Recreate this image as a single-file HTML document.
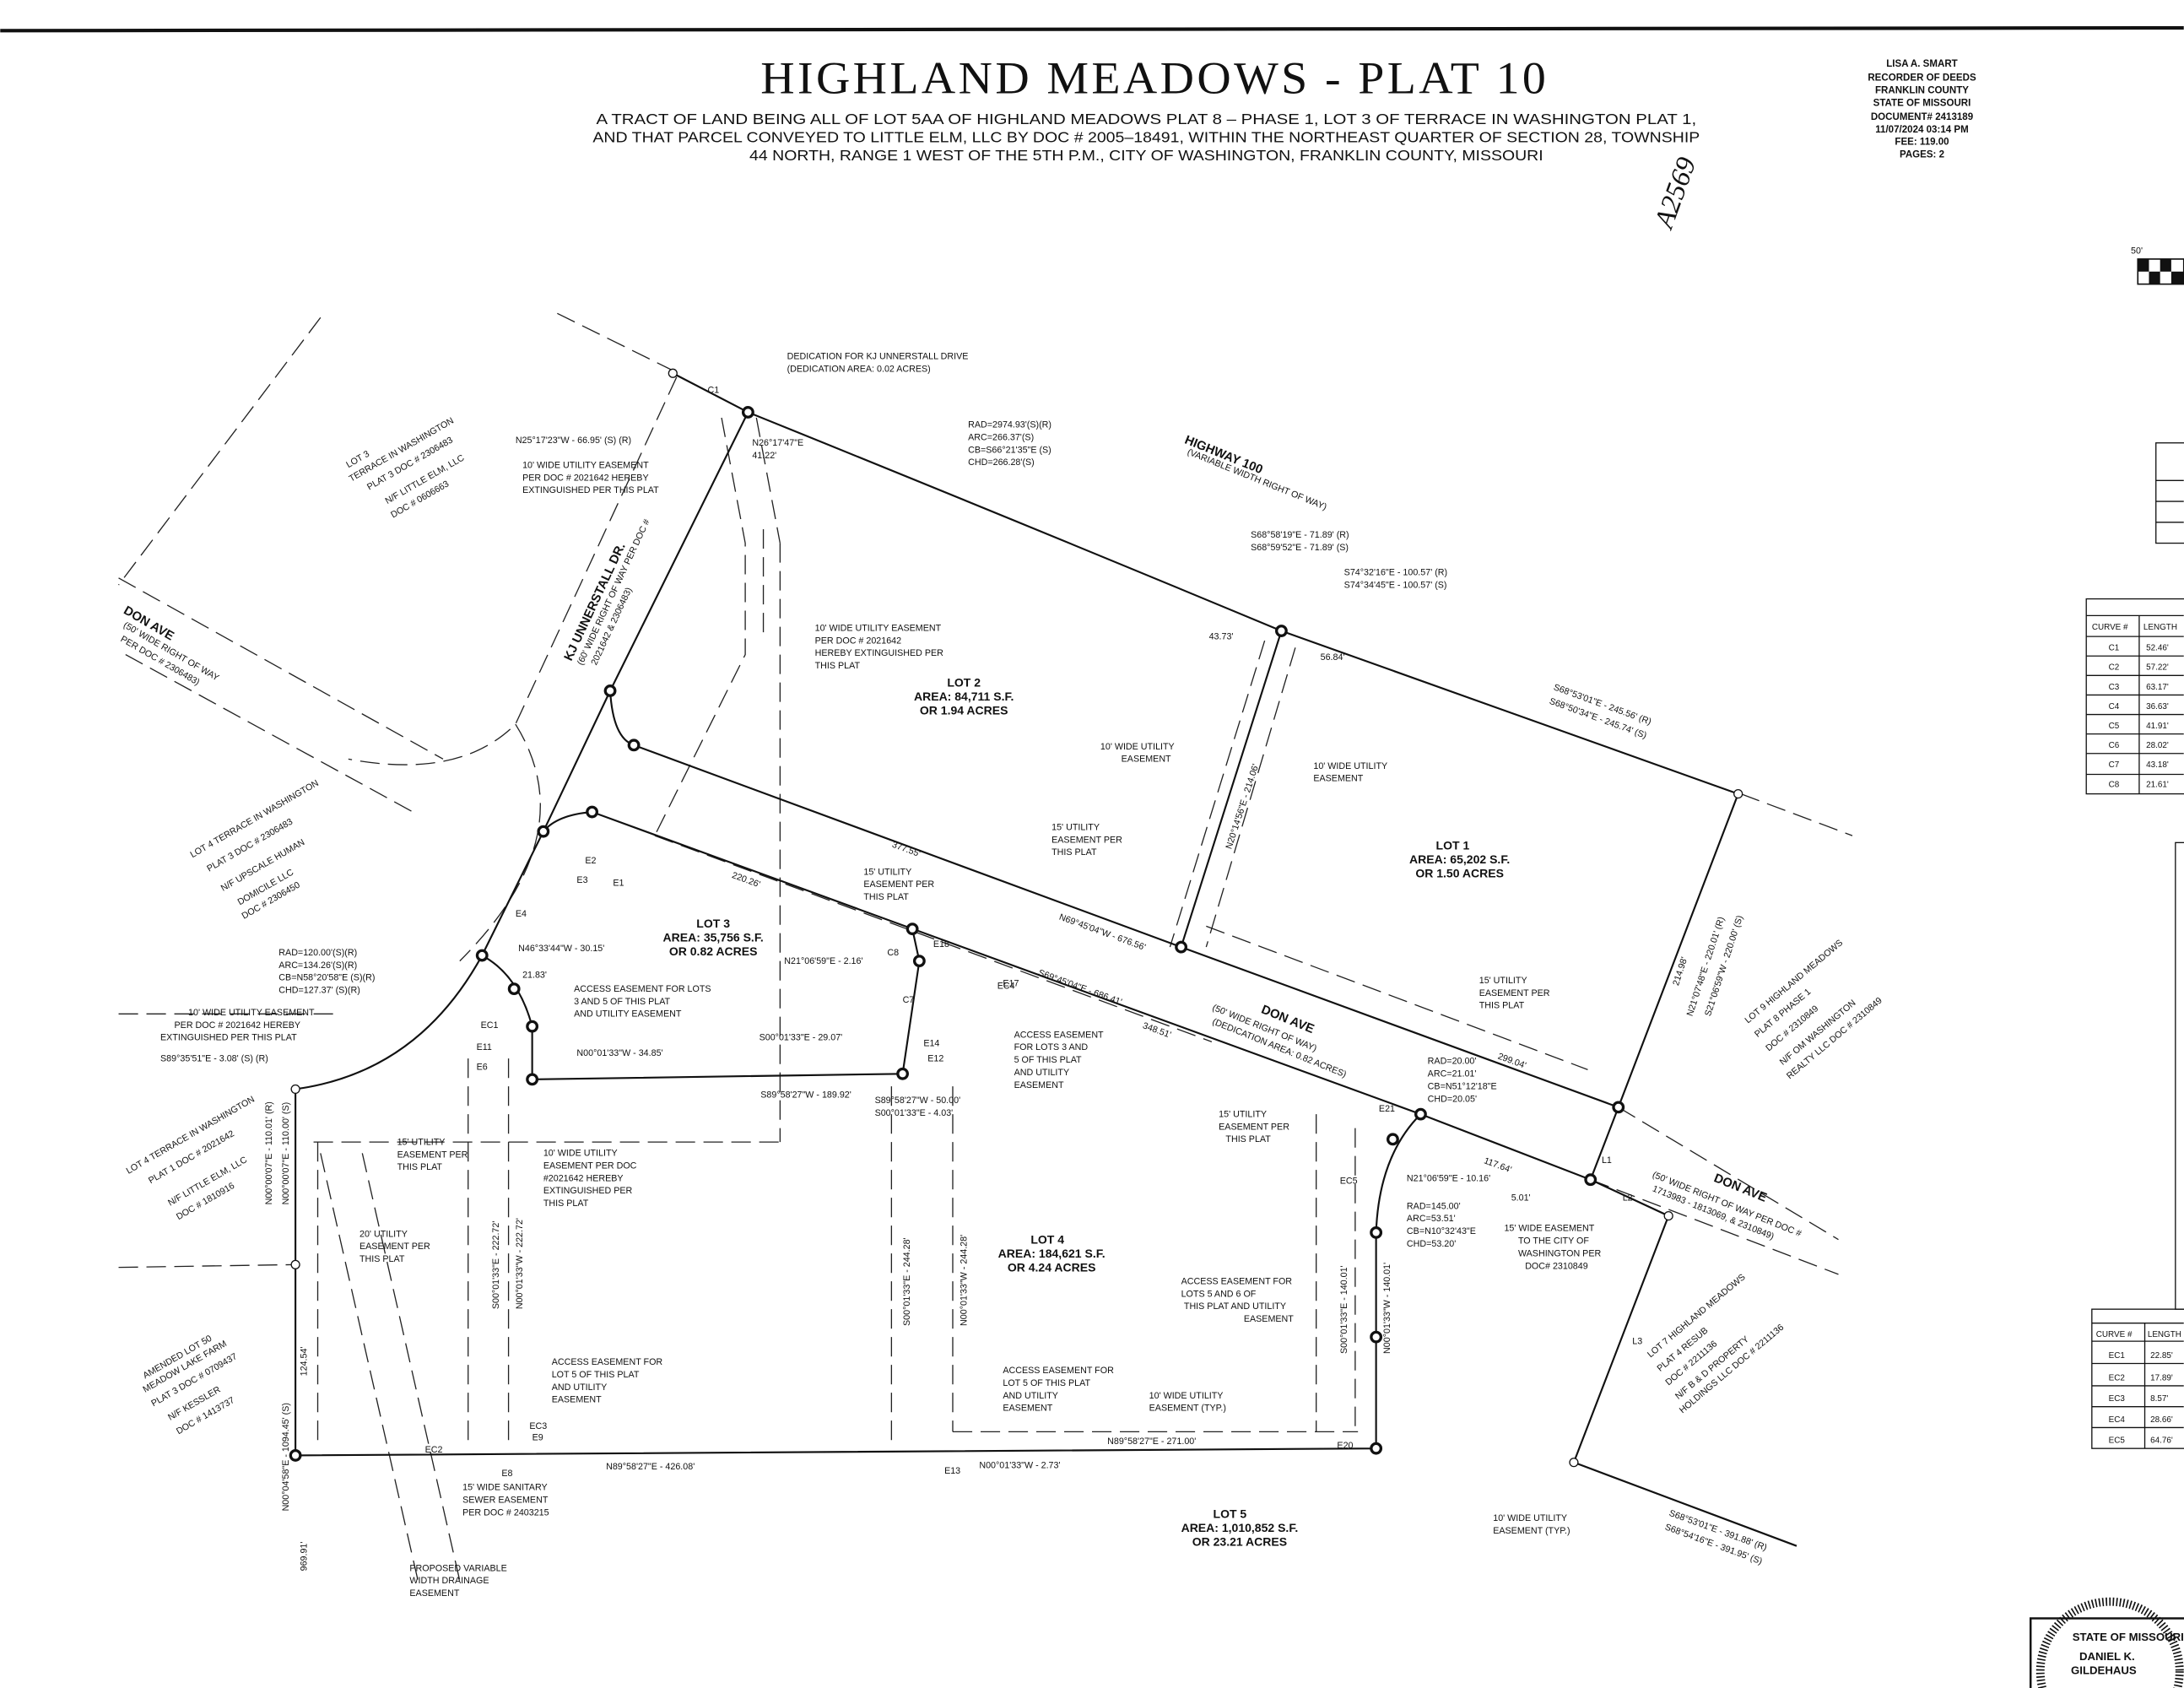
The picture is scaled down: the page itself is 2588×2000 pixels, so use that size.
<!DOCTYPE html>
<html><head><meta charset="utf-8"><style>
html,body{margin:0;padding:0;background:#fff;}
svg{display:block}
text{font-family:"Liberation Sans",sans-serif;fill:#111;}
.s{font-size:6.5px}
.m{font-size:8.5px;font-weight:bold}
</style></head><body>
<svg width="2588" height="2000" viewBox="0 0 1568 1212" xmlns="http://www.w3.org/2000/svg">
<rect width="1568" height="1212" fill="#fff"/>
<line x1="0" y1="22" x2="1568" y2="20" stroke="#111" stroke-width="2.5"/>
<text x="829" y="67" text-anchor="middle" style="font-family:'Liberation Serif',serif;font-size:33px;letter-spacing:2px" textLength="566" lengthAdjust="spacingAndGlyphs">HIGHLAND MEADOWS - PLAT 10</text>
<g style="font-size:10.5px" text-anchor="middle">
<text x="823" y="89" textLength="790" lengthAdjust="spacingAndGlyphs">A TRACT OF LAND BEING ALL OF LOT 5AA OF HIGHLAND MEADOWS PLAT 8 – PHASE 1, LOT 3 OF TERRACE IN WASHINGTON PLAT 1,</text>
<text x="823" y="102" textLength="795" lengthAdjust="spacingAndGlyphs">AND THAT PARCEL CONVEYED TO LITTLE ELM, LLC BY DOC # 2005–18491, WITHIN THE NORTHEAST QUARTER OF SECTION 28, TOWNSHIP</text>
<text x="823" y="115" textLength="570" lengthAdjust="spacingAndGlyphs">44 NORTH, RANGE 1 WEST OF THE 5TH P.M., CITY OF WASHINGTON, FRANKLIN COUNTY, MISSOURI</text>
</g>
<g style="font-size:7px;font-weight:bold" text-anchor="middle">
<text x="1380" y="48">LISA A. SMART</text><text x="1380" y="58">RECORDER OF DEEDS</text>
<text x="1380" y="67">FRANKLIN COUNTY</text><text x="1380" y="76">STATE OF MISSOURI</text>
<text x="1380" y="86">DOCUMENT# 2413189</text><text x="1380" y="95">11/07/2024 03:14 PM</text>
<text x="1380" y="104">FEE: 119.00</text><text x="1380" y="113">PAGES: 2</text>
</g>
<text x="1200" y="165" transform="rotate(-70 1200 165)" style="font-size:20px;font-family:'Liberation Serif',serif;font-style:italic">A2569</text>
<!-- scale bar -->
<text x="1530" y="182" class="s">50'</text>
<rect x="1535" y="186" width="33" height="18" fill="none" stroke="#111"/>
<rect x="1535" y="186" width="8" height="9" fill="#111"/><rect x="1543" y="195" width="8" height="9" fill="#111"/><rect x="1551" y="186" width="8" height="9" fill="#111"/><rect x="1559" y="195" width="9" height="9" fill="#111"/>
<!-- tables -->
<g stroke="#111" stroke-width="0.8" fill="none">
<rect x="1548" y="318" width="25" height="72"/>
<line x1="1548" y1="345" x2="1568" y2="345"/><line x1="1548" y1="360" x2="1568" y2="360"/><line x1="1548" y1="375" x2="1568" y2="375"/>
<rect x="1498" y="430" width="75" height="140"/>
<line x1="1498" y1="442" x2="1568" y2="442"/><line x1="1536" y1="442" x2="1536" y2="570"/>
<line x1="1498" y1="457" x2="1568" y2="457"/><line x1="1498" y1="471" x2="1568" y2="471"/><line x1="1498" y1="485" x2="1568" y2="485"/><line x1="1498" y1="499" x2="1568" y2="499"/><line x1="1498" y1="513" x2="1568" y2="513"/><line x1="1498" y1="527" x2="1568" y2="527"/><line x1="1498" y1="541" x2="1568" y2="541"/><line x1="1498" y1="556" x2="1568" y2="556"/>
<rect x="1562" y="605" width="10" height="335"/>
<rect x="1502" y="940" width="70" height="100"/>
<line x1="1502" y1="950" x2="1568" y2="950"/><line x1="1540" y1="950" x2="1540" y2="1040"/>
<line x1="1502" y1="963" x2="1568" y2="963"/><line x1="1502" y1="979" x2="1568" y2="979"/><line x1="1502" y1="995" x2="1568" y2="995"/><line x1="1502" y1="1010" x2="1568" y2="1010"/><line x1="1502" y1="1025" x2="1568" y2="1025"/>
<rect x="1458" y="1162" width="115" height="60" stroke-width="1.5"/>
<circle cx="1515" cy="1200" r="50" stroke-width="6" stroke-dasharray="1 1.5"/>
</g>
<g class="s" style="font-size:6px">
<text x="1502" y="452">CURVE #</text><text x="1539" y="452">LENGTH</text>
<text x="1514" y="467">C1</text><text x="1541" y="467">52.46'</text>
<text x="1514" y="481">C2</text><text x="1541" y="481">57.22'</text>
<text x="1514" y="495">C3</text><text x="1541" y="495">63.17'</text>
<text x="1514" y="509">C4</text><text x="1541" y="509">36.63'</text>
<text x="1514" y="523">C5</text><text x="1541" y="523">41.91'</text>
<text x="1514" y="537">C6</text><text x="1541" y="537">28.02'</text>
<text x="1514" y="551">C7</text><text x="1541" y="551">43.18'</text>
<text x="1514" y="565">C8</text><text x="1541" y="565">21.61'</text>
<text x="1505" y="960">CURVE #</text><text x="1542" y="960">LENGTH</text>
<text x="1514" y="975">EC1</text><text x="1544" y="975">22.85'</text>
<text x="1514" y="991">EC2</text><text x="1544" y="991">17.89'</text>
<text x="1514" y="1006">EC3</text><text x="1544" y="1006">8.57'</text>
<text x="1514" y="1021">EC4</text><text x="1544" y="1021">28.66'</text>
<text x="1514" y="1036">EC5</text><text x="1544" y="1036">64.76'</text>
<text x="1488" y="1178" style="font-size:8px;font-weight:bold">STATE OF MISSOURI</text>
<text x="1493" y="1192" style="font-size:8px;font-weight:bold">DANIEL K.</text>
<text x="1487" y="1202" style="font-size:8px;font-weight:bold">GILDEHAUS</text>
</g>
<!-- dashed lines -->
<g stroke="#222" stroke-width="0.8" fill="none" stroke-dasharray="14 6">
<line x1="230" y1="228" x2="85" y2="420"/>
<line x1="85" y1="415" x2="318" y2="545"/>
<line x1="90" y1="470" x2="300" y2="585"/>
<path d="M400 225 L487 268 L370 520 Q330 560 250 545"/>
<path d="M370 520 Q420 600 330 690"/>
<path d="M85 728 L240 728"/>
<path d="M85 910 L212 908"/>
<line x1="560" y1="390" x2="560" y2="820"/>
<line x1="225" y1="820" x2="560" y2="820"/>
<path d="M543 300 L560 390"/>
<path d="M518 300 L535 390 L535 470 L470 600"/>
<line x1="548" y1="380" x2="548" y2="460"/>
<line x1="228" y1="820" x2="228" y2="1040"/>
<line x1="336" y1="760" x2="336" y2="1040"/>
<line x1="365" y1="760" x2="365" y2="1040"/>
<line x1="640" y1="780" x2="640" y2="1040"/>
<line x1="684" y1="780" x2="684" y2="1028"/>
<line x1="684" y1="1028" x2="975" y2="1028"/>
<line x1="945" y1="800" x2="945" y2="1028"/>
<line x1="973" y1="810" x2="973" y2="1028"/>
<line x1="930" y1="465" x2="866" y2="680"/>
<line x1="908" y1="460" x2="840" y2="680"/>
<line x1="866" y1="665" x2="1140" y2="768"/>
<line x1="470" y1="600" x2="870" y2="748"/>
<line x1="1162" y1="795" x2="1320" y2="890"/>
<line x1="1142" y1="847" x2="1320" y2="915"/>
<line x1="230" y1="828" x2="300" y2="1135"/>
<line x1="260" y1="828" x2="330" y2="1135"/>
<line x1="1250" y1="570" x2="1330" y2="600"/>
</g>
<!-- solid boundary lines -->
<g stroke="#111" stroke-width="1.3" fill="none">
<line x1="483" y1="268" x2="537" y2="296"/>
<path d="M537 296 Q740 378 920 453 L1248 570 L1162 795"/>
<path d="M537 296 L438 496 L390 597 L346 686 Q300 770 212 782 L212 1045 L988 1040 L988 885 Q990 830 1020 800"/>
<path d="M438 496 Q440 530 455 535 L848 680 L1162 795 L1142 847"/>
<line x1="920" y1="453" x2="848" y2="680"/>
<path d="M390 597 Q400 585 425 583 L1020 800 L1142 847 L1198 873 L1130 1050 L1290 1110"/>
<path d="M346 686 Q372 700 382 737 L382 775 L648 771 L660 690 L655 667"/>
</g>
<g fill="#fff" stroke="#111" stroke-width="2">
<circle cx="537" cy="296" r="3.5"/><circle cx="438" cy="496" r="3.5"/><circle cx="455" cy="535" r="3.5"/><circle cx="425" cy="583" r="3.5"/><circle cx="390" cy="597" r="3.5"/><circle cx="346" cy="686" r="3.5"/><circle cx="369" cy="710" r="3.5"/><circle cx="382" cy="737" r="3.5"/><circle cx="382" cy="775" r="3.5"/><circle cx="655" cy="667" r="3.5"/><circle cx="660" cy="690" r="3.5"/><circle cx="648" cy="771" r="3.5"/><circle cx="920" cy="453" r="3.5"/><circle cx="848" cy="680" r="3.5"/><circle cx="1162" cy="795" r="3.5"/><circle cx="1142" cy="847" r="3.5"/><circle cx="1020" cy="800" r="3.5"/><circle cx="1000" cy="818" r="3.5"/><circle cx="988" cy="885" r="3.5"/><circle cx="988" cy="960" r="3.5"/><circle cx="988" cy="1040" r="3.5"/><circle cx="212" cy="1045" r="3.5"/>
</g>
<g fill="#fff" stroke="#111" stroke-width="0.8">
<circle cx="483" cy="268" r="3"/><circle cx="1248" cy="570" r="3"/><circle cx="1198" cy="873" r="3"/><circle cx="1130" cy="1050" r="3"/><circle cx="212" cy="782" r="3"/><circle cx="212" cy="908" r="3"/>
</g>
<!-- labels -->
<g class="m" text-anchor="middle">
<text x="692" y="493">LOT 2</text><text x="692" y="503">AREA: 84,711 S.F.</text><text x="692" y="513">OR 1.94 ACRES</text>
<text x="1043" y="610">LOT 1</text><text x="1048" y="620">AREA: 65,202 S.F.</text><text x="1048" y="630">OR 1.50 ACRES</text>
<text x="512" y="666">LOT 3</text><text x="512" y="676">AREA: 35,756 S.F.</text><text x="512" y="686">OR 0.82 ACRES</text>
<text x="752" y="893">LOT 4</text><text x="755" y="903">AREA: 184,621 S.F.</text><text x="755" y="913">OR 4.24 ACRES</text>
<text x="883" y="1090">LOT 5</text><text x="890" y="1100">AREA: 1,010,852 S.F.</text><text x="890" y="1110">OR 23.21 ACRES</text>
</g>
<g class="m" style="font-size:9px">
<text x="850" y="318" transform="rotate(22 850 318)">HIGHWAY 100</text>
<text x="905" y="727" transform="rotate(22 905 727)">DON AVE</text>
<text x="1230" y="848" transform="rotate(22 1230 848)">DON AVE</text>
<text x="88" y="440" transform="rotate(30 88 440)">DON AVE</text>
<text x="410" y="475" transform="rotate(-65 410 475)">KJ UNNERSTALL DR.</text>
</g>
<g class="s">
<text x="852" y="326" transform="rotate(22 852 326)">(VARIABLE WIDTH RIGHT OF WAY)</text>
<text x="870" y="725" transform="rotate(22 870 725)">(50' WIDE RIGHT OF WAY)</text>
<text x="870" y="735" transform="rotate(22 870 735)">(DEDICATION AREA: 0.82 ACRES)</text>
<text x="1186" y="845" transform="rotate(22 1186 845)">(50' WIDE RIGHT OF WAY PER DOC #</text>
<text x="1186" y="855" transform="rotate(22 1186 855)">1713983 - 1813069, &amp; 2310849)</text>
<text x="88" y="450" transform="rotate(30 88 450)">(50' WIDE RIGHT OF WAY</text>
<text x="86" y="460" transform="rotate(30 86 460)">PER DOC # 2306483)</text>
<text x="418" y="478" transform="rotate(-65 418 478)">(60' WIDE RIGHT OF WAY PER DOC #</text>
<text x="428" y="478" transform="rotate(-65 428 478)">2021642 &amp; 2306483)</text>
<text x="565" y="258">DEDICATION FOR KJ UNNERSTALL DRIVE</text><text x="565" y="267">(DEDICATION AREA: 0.02 ACRES)</text>
<text x="695" y="307">RAD=2974.93'(S)(R)</text><text x="695" y="316">ARC=266.37'(S)</text><text x="695" y="325">CB=S66°21'35"E (S)</text><text x="695" y="334">CHD=266.28'(S)</text>
<text x="370" y="318">N25°17'23"W - 66.95' (S) (R)</text>
<text x="375" y="336">10' WIDE UTILITY EASEMENT</text><text x="375" y="345">PER DOC # 2021642 HEREBY</text><text x="375" y="354">EXTINGUISHED PER THIS PLAT</text>
<text x="540" y="320">N26°17'47"E</text><text x="540" y="329">41.22'</text>
<text x="898" y="386">S68°58'19"E - 71.89' (R)</text><text x="898" y="395">S68°59'52"E - 71.89' (S)</text>
<text x="965" y="413">S74°32'16"E - 100.57' (R)</text><text x="965" y="422">S74°34'45"E - 100.57' (S)</text>
<text x="585" y="453">10' WIDE UTILITY EASEMENT</text><text x="585" y="462">PER DOC # 2021642</text><text x="585" y="471">HEREBY EXTINGUISHED PER</text><text x="585" y="480">THIS PLAT</text>
<text x="868" y="459">43.73'</text><text x="948" y="474">56.84'</text>
<text x="1115" y="495" transform="rotate(20 1115 495)">S68°53'01"E - 245.56' (R)</text>
<text x="1112" y="505" transform="rotate(20 1112 505)">S68°50'34"E - 245.74' (S)</text>
<text x="790" y="538">10' WIDE UTILITY</text><text x="805" y="547">EASEMENT</text>
<text x="943" y="552">10' WIDE UTILITY</text><text x="943" y="561">EASEMENT</text>
<text x="884" y="610" transform="rotate(-72 884 610)">N20°14'56"E - 214.06'</text>
<text x="755" y="596">15' UTILITY</text><text x="755" y="605">EASEMENT PER</text><text x="755" y="614">THIS PLAT</text>
<text x="620" y="628">15' UTILITY</text><text x="620" y="637">EASEMENT PER</text><text x="620" y="646">THIS PLAT</text>
<text x="640" y="608" transform="rotate(20 640 608)">377.55'</text>
<text x="525" y="630" transform="rotate(20 525 630)">220.26'</text>
<text x="760" y="660" transform="rotate(20 760 660)">N69°45'04"W - 676.56'</text>
<text x="745" y="700" transform="rotate(20 745 700)">S69°45'04"E - 686.41'</text>
<text x="820" y="738" transform="rotate(20 820 738)">348.51'</text>
<text x="1075" y="760" transform="rotate(20 1075 760)">299.04'</text>
<text x="1062" y="706">15' UTILITY</text><text x="1062" y="715">EASEMENT PER</text><text x="1062" y="724">THIS PLAT</text>
<text x="1215" y="730" transform="rotate(-72 1215 730)">N21°07'48"E - 220.01' (R)</text>
<text x="1228" y="730" transform="rotate(-72 1228 730)">S21°06'59"W - 220.00' (S)</text>
<text x="1205" y="708" transform="rotate(-72 1205 708)">214.98'</text>
<text x="1025" y="764">RAD=20.00'</text><text x="1025" y="773">ARC=21.01'</text><text x="1025" y="782">CB=N51°12'18"E</text><text x="1025" y="791">CHD=20.05'</text>
<text x="1010" y="848">N21°06'59"E - 10.16'</text><text x="1065" y="835" transform="rotate(20 1065 835)">117.64'</text>
<text x="1085" y="862">5.01'</text>
<text x="1010" y="868">RAD=145.00'</text><text x="1010" y="877">ARC=53.51'</text><text x="1010" y="886">CB=N10°32'43"E</text><text x="1010" y="895">CHD=53.20'</text>
<text x="1080" y="884">15' WIDE EASEMENT</text><text x="1090" y="893">TO THE CITY OF</text><text x="1090" y="902">WASHINGTON PER</text><text x="1095" y="911">DOC# 2310849</text>
<text x="875" y="802">15' UTILITY</text><text x="875" y="811">EASEMENT PER</text><text x="880" y="820">THIS PLAT</text>
<text x="848" y="922">ACCESS EASEMENT FOR</text><text x="848" y="931">LOTS 5 AND 6 OF</text><text x="850" y="940">THIS PLAT AND UTILITY</text><text x="893" y="949">EASEMENT</text>
<text x="967" y="972" transform="rotate(-90 967 972)">S00°01'33"E - 140.01'</text>
<text x="998" y="972" transform="rotate(-90 998 972)">N00°01'33"W - 140.01'</text>
<text x="825" y="1004">10' WIDE UTILITY</text><text x="825" y="1013">EASEMENT (TYP.)</text>
<text x="795" y="1037">N89°58'27"E - 271.00'</text>
<text x="720" y="986">ACCESS EASEMENT FOR</text><text x="720" y="995">LOT 5 OF THIS PLAT</text><text x="720" y="1004">AND UTILITY</text><text x="720" y="1013">EASEMENT</text>
<text x="703" y="1054">N00°01'33"W - 2.73'</text>
<text x="653" y="952" transform="rotate(-90 653 952)">S00°01'33"E - 244.28'</text>
<text x="694" y="952" transform="rotate(-90 694 952)">N00°01'33"W - 244.28'</text>
<text x="546" y="788">S89°58'27"W - 189.92'</text>
<text x="628" y="792">S89°58'27"W - 50.00'</text><text x="628" y="801">S00°01'33"E - 4.03'</text>
<text x="545" y="747">S00°01'33"E - 29.07'</text>
<text x="563" y="692">N21°06'59"E - 2.16'</text>
<text x="728" y="745">ACCESS EASEMENT</text><text x="728" y="754">FOR LOTS 3 AND</text><text x="728" y="763">5 OF THIS PLAT</text><text x="728" y="772">AND UTILITY</text><text x="728" y="781">EASEMENT</text>
<text x="412" y="712">ACCESS EASEMENT FOR LOTS</text><text x="412" y="721">3 AND 5 OF THIS PLAT</text><text x="412" y="730">AND UTILITY EASEMENT</text>
<text x="372" y="683">N46°33'44"W - 30.15'</text><text x="375" y="702">21.83'</text>
<text x="414" y="758">N00°01'33"W - 34.85'</text>
<text x="200" y="686">RAD=120.00'(S)(R)</text><text x="200" y="695">ARC=134.26'(S)(R)</text><text x="200" y="704">CB=N58°20'58"E (S)(R)</text><text x="200" y="713">CHD=127.37' (S)(R)</text>
<text x="135" y="729">10' WIDE UTILITY EASEMENT</text><text x="125" y="738">PER DOC # 2021642 HEREBY</text><text x="115" y="747">EXTINGUISHED PER THIS PLAT</text>
<text x="115" y="762">S89°35'51"E - 3.08' (S) (R)</text>
<text x="285" y="822">15' UTILITY</text><text x="285" y="831">EASEMENT PER</text><text x="285" y="840">THIS PLAT</text>
<text x="390" y="830">10' WIDE UTILITY</text><text x="390" y="839">EASEMENT PER DOC</text><text x="390" y="848">#2021642 HEREBY</text><text x="390" y="857">EXTINGUISHED PER</text><text x="390" y="866">THIS PLAT</text>
<text x="258" y="888">20' UTILITY</text><text x="258" y="897">EASEMENT PER</text><text x="258" y="906">THIS PLAT</text>
<text x="396" y="980">ACCESS EASEMENT FOR</text><text x="396" y="989">LOT 5 OF THIS PLAT</text><text x="396" y="998">AND UTILITY</text><text x="396" y="1007">EASEMENT</text>
<text x="358" y="940" transform="rotate(-90 358 940)">S00°01'33"E - 222.72'</text>
<text x="375" y="940" transform="rotate(-90 375 940)">N00°01'33"W - 222.72'</text>
<text x="195" y="865" transform="rotate(-90 195 865)">N00°00'07"E - 110.01' (R)</text>
<text x="207" y="865" transform="rotate(-90 207 865)">N00°00'07"E - 110.00' (S)</text>
<text x="220" y="988" transform="rotate(-90 220 988)">124.54'</text>
<text x="207" y="1085" transform="rotate(-90 207 1085)">N00°04'58"E - 1094.45' (S)</text>
<text x="220" y="1128" transform="rotate(-90 220 1128)">969.91'</text>
<text x="435" y="1055">N89°58'27"E - 426.08'</text>
<text x="332" y="1070">15' WIDE SANITARY</text><text x="332" y="1079">SEWER EASEMENT</text><text x="332" y="1088">PER DOC # 2403215</text>
<text x="294" y="1128">PROPOSED VARIABLE</text><text x="294" y="1137">WIDTH DRAINAGE</text><text x="294" y="1146">EASEMENT</text>
<text x="1072" y="1092">10' WIDE UTILITY</text><text x="1072" y="1101">EASEMENT (TYP.)</text>
<text x="1198" y="1088" transform="rotate(20 1198 1088)">S68°53'01"E - 391.88' (R)</text>
<text x="1195" y="1098" transform="rotate(20 1195 1098)">S68°54'16"E - 391.95' (S)</text>
<text x="250" y="336" transform="rotate(-30 250 336)">LOT 3</text><text x="252" y="346" transform="rotate(-30 252 346)">TERRACE IN WASHINGTON</text><text x="265" y="352" transform="rotate(-30 265 352)">PLAT 3 DOC # 2306483</text><text x="278" y="362" transform="rotate(-30 278 362)">N/F LITTLE ELM, LLC</text><text x="282" y="372" transform="rotate(-30 282 372)">DOC # 0606663</text>
<text x="138" y="616" transform="rotate(-30 138 616)">LOT 4 TERRACE IN WASHINGTON</text><text x="150" y="626" transform="rotate(-30 150 626)">PLAT 3 DOC # 2306483</text><text x="160" y="640" transform="rotate(-30 160 640)">N/F UPSCALE HUMAN</text><text x="172" y="650" transform="rotate(-30 172 650)">DOMICILE LLC</text><text x="175" y="660" transform="rotate(-30 175 660)">DOC # 2306450</text>
<text x="92" y="843" transform="rotate(-30 92 843)">LOT 4 TERRACE IN WASHINGTON</text><text x="108" y="850" transform="rotate(-30 108 850)">PLAT 1 DOC # 2021642</text><text x="122" y="866" transform="rotate(-30 122 866)">N/F LITTLE ELM, LLC</text><text x="128" y="876" transform="rotate(-30 128 876)">DOC # 1810916</text>
<text x="104" y="990" transform="rotate(-30 104 990)">AMENDED LOT 50</text><text x="104" y="1000" transform="rotate(-30 104 1000)">MEADOW LAKE FARM</text><text x="110" y="1010" transform="rotate(-30 110 1010)">PLAT 3 DOC # 0709437</text><text x="122" y="1020" transform="rotate(-30 122 1020)">N/F KESSLER</text><text x="128" y="1030" transform="rotate(-30 128 1030)">DOC # 1413737</text>
<text x="1255" y="735" transform="rotate(-40 1255 735)">LOT 9 HIGHLAND MEADOWS</text><text x="1262" y="745" transform="rotate(-40 1262 745)">PLAT 8 PHASE 1</text><text x="1270" y="755" transform="rotate(-40 1270 755)">DOC # 2310849</text><text x="1280" y="765" transform="rotate(-40 1280 765)">N/F OM WASHINGTON</text><text x="1285" y="775" transform="rotate(-40 1285 775)">REALTY LLC DOC # 2310849</text>
<text x="1185" y="975" transform="rotate(-40 1185 975)">LOT 7 HIGHLAND MEADOWS</text><text x="1192" y="985" transform="rotate(-40 1192 985)">PLAT 4 RESUB</text><text x="1198" y="995" transform="rotate(-40 1198 995)">DOC # 2211136</text><text x="1205" y="1005" transform="rotate(-40 1205 1005)">N/F B &amp; D PROPERTY</text><text x="1208" y="1015" transform="rotate(-40 1208 1015)">HOLDINGS LLC DOC # 2211136</text>
<text x="508" y="282">C1</text><text x="1150" y="835">L1</text><text x="1165" y="862">L2</text><text x="1172" y="965">L3</text>
<text x="345" y="738">EC1</text><text x="305" y="1043">EC2</text><text x="380" y="1026">EC3</text><text x="716" y="710">EC4</text><text x="962" y="850">EC5</text>
<text x="370" y="658">E4</text><text x="420" y="620">E2</text><text x="414" y="634">E3</text><text x="440" y="636">E1</text><text x="342" y="754">E11</text><text x="342" y="768">E6</text><text x="360" y="1060">E8</text><text x="382" y="1034">E9</text><text x="663" y="751">E14</text><text x="666" y="762">E12</text><text x="720" y="708">E17</text><text x="670" y="680">E18</text><text x="678" y="1058">E13</text><text x="960" y="1040">E20</text><text x="990" y="798">E21</text><text x="637" y="686">C8</text><text x="648" y="720">C7</text>
</g>
</svg>
</body></html>
